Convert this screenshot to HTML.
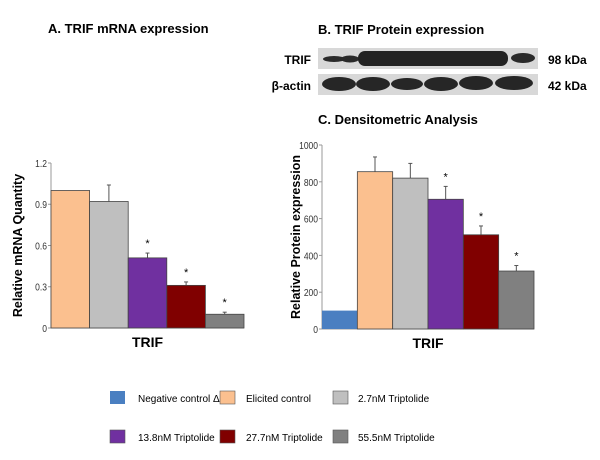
<!DOCTYPE html>
<html><head><meta charset="utf-8"><style>
body{margin:0;background:#fff;font-family:"Liberation Sans",sans-serif}
svg text{font-family:"Liberation Sans",sans-serif}
</style></head><body>
<svg id="c" width="600" height="455" viewBox="0 0 600 455">
<text x="48" y="33" font-size="13" font-weight="bold">A. TRIF mRNA expression</text>
<text x="318" y="34" font-size="13" font-weight="bold">B. TRIF Protein expression</text>
<text x="318" y="124" font-size="13" font-weight="bold">C.  Densitometric Analysis</text>
<g>
<rect x="318" y="48" width="220" height="21" fill="#d8d8d8"/>
<rect x="318" y="74" width="220" height="21" fill="#d8d8d8"/>
<ellipse cx="334" cy="59" rx="11" ry="3" fill="#2a2a2a"/><ellipse cx="350" cy="59" rx="9" ry="3.5" fill="#2a2a2a"/>
<rect x="358" y="51" width="150" height="15" rx="7" fill="#222"/>
<ellipse cx="523" cy="58" rx="12" ry="5" fill="#2a2a2a"/>
<g fill="#262626"><ellipse cx="339" cy="84" rx="17" ry="7"/><ellipse cx="373" cy="84" rx="17" ry="7"/><ellipse cx="407" cy="84" rx="16" ry="6"/><ellipse cx="441" cy="84" rx="17" ry="7"/><ellipse cx="476" cy="83" rx="17" ry="7"/><ellipse cx="514" cy="83" rx="19" ry="7"/></g>
<text x="311" y="64" font-size="12" font-weight="bold" text-anchor="end">TRIF</text>
<text x="311" y="90" font-size="12" font-weight="bold" text-anchor="end">β-actin</text>
<text x="548" y="64" font-size="12" font-weight="bold">98 kDa</text>
<text x="548" y="90" font-size="12" font-weight="bold">42 kDa</text>
</g>
<g id="ga"></g>
<g id="gb"></g>
<g id="lg"></g>
</svg>
<script>
const colors=["#4a7fc1","#fbc08f","#bfbfbf","#7030a0","#800000","#808080"];
const seriesNames=["Negative control Δ","Elicited control","2.7nM Triptolide","13.8nM Triptolide","27.7nM Triptolide","55.5nM Triptolide"];
const mrnaValues=[1.0,0.92,0.51,0.31,0.10];
const mrnaErr=[0,0.12,0.035,0.025,0.015];
const mrnaSig=[false,false,true,true,true];
const mrnaTicks=[0,0.3,0.6,0.9,1.2];
const protValues=[100,855,820,705,512,315];
const protErr=[0,80,80,70,48,30];
const protSig=[false,false,false,true,true,true];
const protTicks=[0,200,400,600,800,1000];
const NS="http://www.w3.org/2000/svg";
function mk(p,t,a,txt){const e=document.createElementNS(NS,t);for(const k in a)e.setAttribute(k,a[k]);if(txt!=null)e.textContent=txt;p.appendChild(e);return e;}
function chart(g,vals,errs,sig,ticks,colOff,x0,x1,y0,y1,ymax,ytitle,tx,tdec){
 const y=v=>y0-(v/ymax)*(y0-y1);const bw=(x1-x0)/vals.length;
 let a=mk(g,'line',{x1:x0,x2:x0,y1:y1,y2:y0,stroke:'#999'});
 a=mk(g,'line',{x1:x0,x2:x1,y1:y0,y2:y0,stroke:'#999'});
 ticks.forEach(t=>{mk(g,'line',{x1:x0-3,x2:x0,y1:y(t),y2:y(t),stroke:'#999'});
  const l=mk(g,'text',{x:x0-4,y:y(t)+4,'font-size':10,'text-anchor':'end',fill:'#333'},tdec?(t===0?'0':t.toFixed(1)):t);
  l.setAttribute('transform',`translate(${x0-4},0) scale(0.85,1) translate(${-(x0-4)},0)`);
  });
 vals.forEach((v,i)=>{const bx=x0+i*bw;
  if(errs[i]>0){mk(g,'line',{x1:bx+bw/2,x2:bx+bw/2,y1:y(v),y2:y(v+errs[i]),stroke:'#555'});mk(g,'line',{x1:bx+bw/2-2,x2:bx+bw/2+2,y1:y(v+errs[i]),y2:y(v+errs[i]),stroke:'#555'});}
  const r=mk(g,'rect',{x:bx,y:y(v),width:bw,height:y0-y(v),fill:colors[i+colOff],stroke:i+colOff===0?'none':'#444','stroke-width':0.8});
  
  if(sig[i]){const s=mk(g,'text',{x:bx+bw/2,y:y(v+errs[i])-6,'font-size':11,'text-anchor':'middle'},'*');}
 });
 const xt=mk(g,'text',{x:(x0+x1)/2,y:y0+19,'font-size':14,'font-weight':'bold','text-anchor':'middle'},'TRIF');
 const yt=mk(g,'text',{transform:`translate(${tx},${(y0+y1)/2}) rotate(-90)`,'font-size':12.5,'font-weight':'bold','text-anchor':'middle'},ytitle);
}
chart(document.getElementById('ga'),mrnaValues,mrnaErr,mrnaSig,mrnaTicks,1,51,244,328,163,1.2,'Relative mRNA Quantity',22,true);
chart(document.getElementById('gb'),protValues,protErr,protSig,protTicks,0,322,534,329,145,1000,'Relative Protein expression',300,false);
const lg=document.getElementById('lg');
const lx=[110,220,333],ltx=[138,246,358],ly=[398,437];
seriesNames.forEach((n,i)=>{const cx=lx[i%3],ry=ly[Math.floor(i/3)];
 const s=mk(lg,'rect',{x:cx,y:ry-7,width:15,height:13,fill:colors[i],stroke:i===0?'none':'#555','stroke-width':0.6});
 
 const t=mk(lg,'text',{x:ltx[i%3],y:ry+4,'font-size':10},n);
 });
</script>
</body></html>
